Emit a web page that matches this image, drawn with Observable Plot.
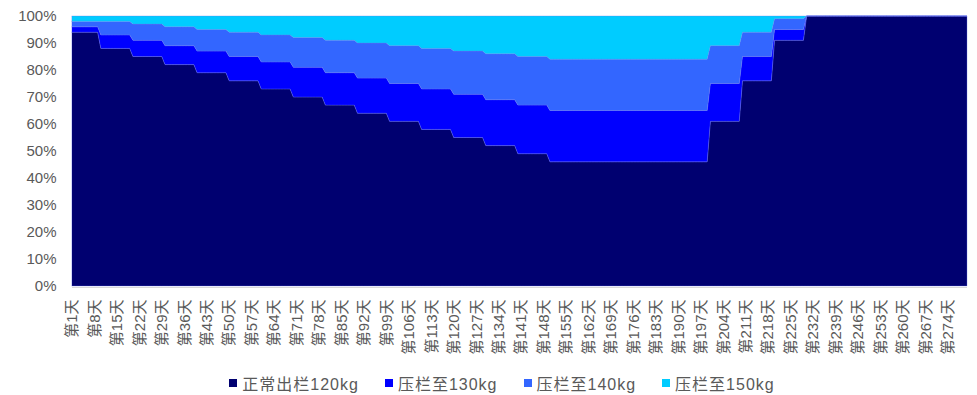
<!DOCTYPE html>
<html>
<head>
<meta charset="utf-8">
<script src="https://cdn.jsdelivr.net/npm/d3@7"></script>
<script src="https://cdn.jsdelivr.net/npm/@observablehq/plot@0.6"></script>
<style>
  body { margin: 0; background: #fff; font-family: "Liberation Sans", "Noto Sans CJK SC", sans-serif; }
  #legend { display: flex; justify-content: center; align-items: center; height: 25px;
            font-size: 16px; letter-spacing: 1px; color: #595959; padding-left: 27px; gap: 26px; }
  #legend .item { display: flex; align-items: center; white-space: nowrap; }
  #legend .sw { width: 8px; height: 8px; margin-right: 5px; }
</style>
</head>
<body>
<div id="chart"></div>
<div id="legend"></div>
<script>
// Share of pigs (%) by selling strategy, one value per 10-day period:
// period 0 = days 1–9, period k = days 10k … 10k+9 (the last one runs to day 280).
const seriesNames  = ["正常出栏120kg", "压栏至130kg", "压栏至140kg", "压栏至150kg"];
const seriesColors = ["#000070", "#0000ff", "#3366ff", "#00ccff"];

const normal120 = [94, 88, 85, 82, 79, 76, 73, 70, 67, 64, 61, 58, 55, 52, 49, 46, 46, 46, 46, 46, 61, 76, 91, 100, 100, 100, 100, 100];
const hold130   = [ 2,  5,  6,  7,  8,  9, 10, 11, 12, 13, 14, 15, 16, 17, 18, 19, 19, 19, 19, 19, 14,  9,  4,   0,   0,   0,   0,   0];
const hold140   = [ 2,  5,  6,  7,  8,  9, 10, 11, 12, 13, 14, 15, 16, 17, 18, 19, 19, 19, 19, 19, 14,  9,  4,   0,   0,   0,   0,   0];
const hold150   = [ 2,  2,  3,  4,  5,  6,  7,  8,  9, 10, 11, 12, 13, 14, 15, 16, 16, 16, 16, 16, 11,  6,  1,   0,   0,   0,   0,   0];

const tickDays = [1, 8, 15, 22, 29, 36, 43, 50, 57, 64, 71, 78, 85, 92, 99, 106, 113, 120, 127, 134,
                  141, 148, 155, 162, 169, 176, 183, 190, 197, 204, 211, 218, 225, 232, 239, 246, 253, 260, 267, 274];
const yTicks = [0, 10, 20, 30, 40, 50, 60, 70, 80, 90, 100];
const firstDay = 1, lastDay = 280;

// Daily rows: each day takes the value of the period it falls in.
const seriesValues = [normal120, hold130, hold140, hold150];
const rows = [];
for (let day = firstDay; day <= lastDay; day++) {
  const period = Math.min(Math.floor(day / 10), normal120.length - 1);
  seriesNames.forEach((name, i) => rows.push({day, series: name, share: seriesValues[i][period]}));
}

const font = '"Liberation Sans", "Noto Sans CJK SC", sans-serif';

const chart = Plot.plot({
  width: 977,
  height: 370,
  marginLeft: 72,
  marginRight: 10,
  marginTop: 16,
  marginBottom: 84,
  style: {fontFamily: font, fontSize: "14px", color: "#595959", background: "#fff"},
  x: {domain: [firstDay, lastDay]},
  y: {domain: [0, 100]},
  color: {domain: seriesNames, range: seriesColors},
  marks: [
    Plot.areaY(rows, {
      x: "day", y: "share", fill: "series", order: seriesNames,
      stroke: "#6a78ee", strokeWidth: 0.6, strokeOpacity: 0.55
    }),
    Plot.ruleY([0], {stroke: "#d9d9d9", strokeWidth: 1.2, dy: 1}),
    Plot.axisY({ticks: yTicks, tickFormat: d => d + "%", tickSize: 0, tickPadding: 16, fontSize: 15, label: null}),
    Plot.axisX({ticks: tickDays, tickFormat: d => `第${d}天`, tickRotate: -90, tickSize: 0, tickPadding: 13, fontSize: 15, label: null})
  ]
});
document.getElementById("chart").appendChild(chart);

// Legend below the chart
const legend = document.getElementById("legend");
seriesNames.forEach((name, i) => {
  const item = document.createElement("div");
  item.className = "item";
  const sw = document.createElement("span");
  sw.className = "sw";
  sw.style.background = seriesColors[i];
  const label = document.createElement("span");
  label.textContent = name;
  item.append(sw, label);
  legend.appendChild(item);
});
</script>
</body>
</html>
